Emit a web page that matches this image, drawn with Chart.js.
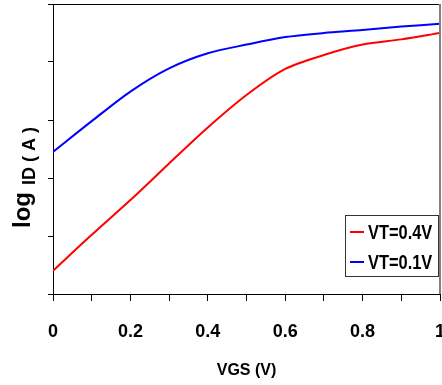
<!DOCTYPE html>
<html>
<head>
<meta charset="utf-8">
<script src="https://cdn.jsdelivr.net/npm/chart.js@4.4.0/dist/chart.umd.min.js"></script>
<style>
  html, body { margin: 0; padding: 0; background: #fff; }
  #wrap { width: 442px; height: 385px; }
</style>
</head>
<body>
<div id="wrap"><canvas id="ivChart" width="442" height="385"></canvas></div>
<script>
  // VGS sweep (V) and log ID
  const vgs = [0, 0.1, 0.2, 0.3, 0.4, 0.5, 0.6, 0.7, 0.8, 0.9, 1.0];
  const logIdVt04 = [0.40, 1.02, 1.62, 2.25, 2.87, 3.43, 3.88, 4.12, 4.30, 4.39, 4.50];
  const logIdVt01 = [2.45, 2.98, 3.49, 3.89, 4.15, 4.30, 4.43, 4.50, 4.55, 4.61, 4.66];
  const seriesLabels = ['VT=0.4V', 'VT=0.1V'];
  const xTickLabels = { '0': '0', '0.2': '0.2', '0.4': '0.4', '0.6': '0.6', '0.8': '0.8', '1': '1' };

  const sans = "'Liberation Sans', Arial, sans-serif";

  // frame on top and right, plus the y title and the inner legend
  const extras = {
    id: 'extras',
    afterDraw(chart) {
      const ctx = chart.ctx;
      const a = chart.chartArea;
      ctx.save();
      ctx.lineWidth = 1;
      ctx.strokeStyle = '#000';
      ctx.beginPath();
      ctx.moveTo(a.left, a.top + 0.5);
      ctx.lineTo(a.right, a.top + 0.5);
      ctx.stroke();
      ctx.strokeStyle = '#808080';
      ctx.lineWidth = 2;
      ctx.beginPath();
      ctx.moveTo(a.right, a.top);
      ctx.lineTo(a.right, a.bottom);
      ctx.stroke();

      // y axis title: "log" big, "ID ( A )" smaller and lowered
      ctx.fillStyle = '#000';
      ctx.translate(30, 228);
      ctx.rotate(-Math.PI / 2);
      ctx.textBaseline = 'alphabetic';
      ctx.textAlign = 'left';
      ctx.font = 'bold 24px ' + sans;
      ctx.fillText('log', 0, 0);
      const w = ctx.measureText('log').width;
      ctx.font = 'bold 18px ' + sans;
      ctx.fillText('ID ( A )', w + 7, 5);
      ctx.restore();

      // legend box
      ctx.save();
      const bx = 345, by = 215, bw = 93, bh = 61;
      ctx.fillStyle = '#fff';
      ctx.fillRect(bx, by, bw, bh);
      ctx.strokeStyle = '#333';
      ctx.lineWidth = 1;
      ctx.strokeRect(bx + 0.5, by + 0.5, bw, bh);
      chart.data.datasets.forEach((ds, i) => {
        const yy = 232 + i * 30;
        ctx.strokeStyle = ds.borderColor;
        ctx.lineWidth = 2;
        ctx.beginPath();
        ctx.moveTo(350, yy);
        ctx.lineTo(364, yy);
        ctx.stroke();
        ctx.save();
        ctx.translate(368, yy + 1);
        ctx.scale(0.82, 1); // narrow face is not installed, squeeze it
        ctx.font = 'bold 20px ' + sans;
        ctx.textBaseline = 'middle';
        ctx.textAlign = 'left';
        ctx.fillStyle = '#000';
        ctx.fillText(ds.label, 0, 0);
        ctx.restore();
      });
      ctx.restore();
    }
  };

  document.addEventListener('DOMContentLoaded', () => {
    const ctx = document.getElementById('ivChart').getContext('2d');

    new Chart(ctx, {
      type: 'line',
      data: {
        labels: vgs,
        datasets: [
          {
            label: seriesLabels[0],
            data: vgs.map((v, i) => ({ x: v, y: logIdVt04[i] })),
            borderColor: '#ff0000',
            borderWidth: 2,
            pointRadius: 0,
            tension: 0.3,
            fill: false,
          },
          {
            label: seriesLabels[1],
            data: vgs.map((v, i) => ({ x: v, y: logIdVt01[i] })),
            borderColor: '#0000ff',
            borderWidth: 2,
            pointRadius: 0,
            tension: 0.3,
            fill: false,
          },
        ],
      },
      options: {
        responsive: false,
        animation: false,
        layout: { padding: { top: 4, right: 2, left: 0, bottom: 0 } },
        plugins: {
          legend: { display: false },
          tooltip: { enabled: false },
        },
        scales: {
          x: {
            type: 'linear',
            min: 0,
            max: 1,
            afterFit: (scale) => {
              scale.height = 91;
              scale.paddingLeft = 0;
              scale.paddingRight = 0;
            },
            border: { color: '#000', width: 1 },
            grid: { drawOnChartArea: false, drawTicks: true, tickLength: 7, color: '#000' },
            ticks: {
              stepSize: 0.1,
              autoSkip: false,
              maxRotation: 0,
              padding: 20,
              color: '#000',
              font: { family: sans, size: 18, weight: 'bold' },
              callback: (v) => {
                const k = String(Math.round(v * 10) / 10);
                return xTickLabels[k] !== undefined ? xTickLabels[k] : '';
              },
            },
            title: {
              display: true,
              text: 'VGS (V)',
              color: '#000',
              font: { family: sans, size: 16, weight: 'bold' },
              padding: { top: 0, bottom: 5 },
            },
          },
          y: {
            min: 0,
            max: 5,
            afterFit: (scale) => { scale.width = 53; },
            border: { color: '#000', width: 1 },
            grid: { drawOnChartArea: false, drawTicks: true, tickLength: 5, color: '#000' },
            ticks: { stepSize: 1, display: false },
          },
        },
      },
      plugins: [extras],
    });
  });
</script>
</body>
</html>
